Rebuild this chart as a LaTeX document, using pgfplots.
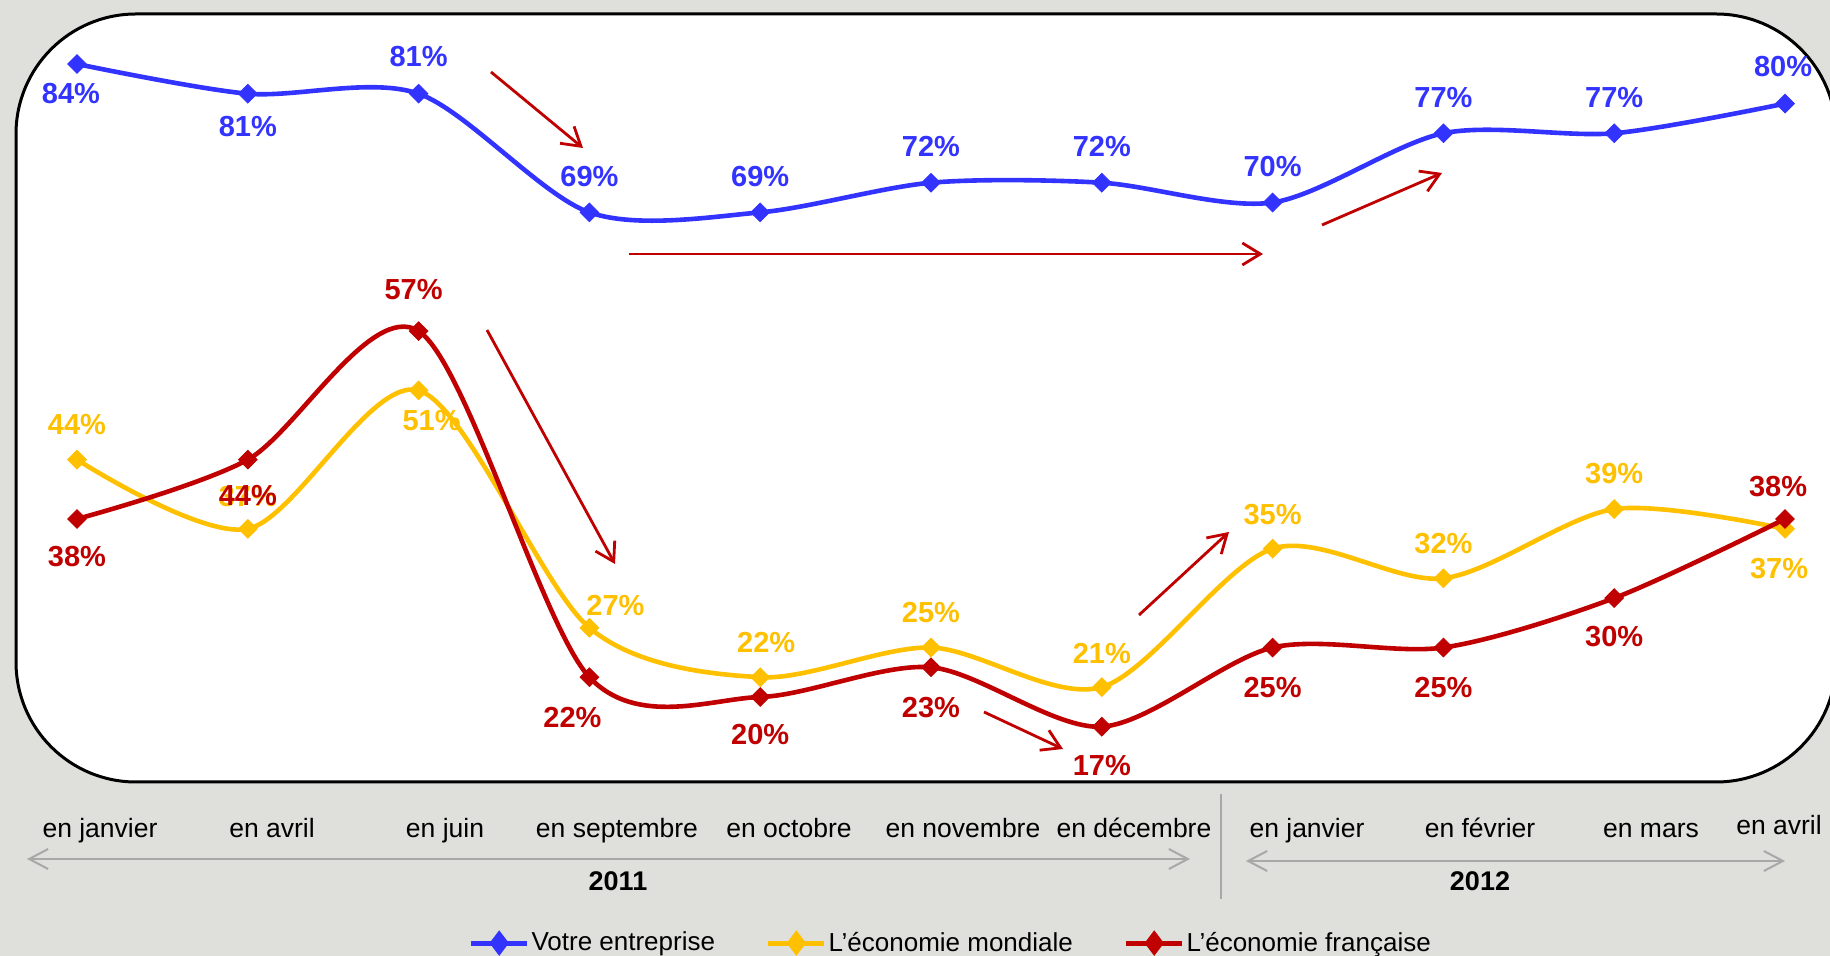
\documentclass[border=0pt]{standalone}
\usepackage{fontspec}
\setmainfont{Liberation Sans}
\usepackage{pgfplots}
\pgfplotsset{compat=1.18}
\usepackage{pgfplotstable}
\usetikzlibrary{arrows.meta}
\definecolor{cblue}{RGB}{51,51,255}
\definecolor{cyellow}{RGB}{255,192,0}
\definecolor{cred}{RGB}{192,0,0}
\definecolor{bggray}{RGB}{223,224,219}
\definecolor{agray}{RGB}{168,168,168}

% x = survey (0..10), y = percent, dx/dy = label offset in bp
\pgfplotstableread{
x y dx dy
0 84 -3 -14.5
1 81 0 -16.5
2 81 0 18.5
3 69 0 18
4 69 0 18
5 72 0 18
6 72 0 18
7 70 0 18
8 77 0 18
9 77 0 18
10 80 -1 18.5
}\entreprise

\pgfplotstableread{
x y dx dy
0 44 0 17.5
1 37 0 16
2 51 6.5 -15
3 27 13 11
4 22 3 17.5
5 25 0 17.5
6 21 0 17
7 35 0 17
8 32 0 17.5
9 39 0 18
10 37 -3 -20
}\mondiale

\pgfplotstableread{
x y dx dy
0 38 0 -19
1 44 0 -18
2 57 -2.5 21
3 22 -8.5 -20
4 20 0 -19
5 23 0 -20
6 17 0 -19.5
7 25 0 -20
8 25 0 -20
9 30 0 -19
10 38 -3.5 16
}\francaise

\begin{document}
\begin{tikzpicture}
\useasboundingbox (0,0) rectangle (915bp,478bp);
\fill[bggray] (0,0) rectangle (915bp,478bp);
\draw[line width=1.5bp, fill=white, rounded corners=60bp] (8bp,87bp) rectangle (918bp,471bp);

\begin{axis}[
  at={(38.5bp,80.05bp)}, anchor=south west,
  scale only axis, width=854bp, height=395.6bp,
  xmin=0, xmax=10, ymin=10, ymax=90,
  hide axis, clip=false,
  every axis plot/.append style={line width=2.3bp, smooth,
     mark=square*, mark size=3.3bp, mark options={rotate=45, solid, line width=0.4bp}},
  legend columns=3,
  legend image code/.code={%
     \draw[#1, mark=none, line width=2.5bp] (0bp,0bp) -- (28bp,0bp);
     \fill[#1] (14bp,4.5bp) -- (17.4bp,0bp) -- (14bp,-4.5bp) -- (10.6bp,0bp) -- cycle;},
  legend style={at={(axis description cs:0.5115,-0.186)}, anchor=center,
     draw=none, fill=none, inner sep=0pt,
     font=\fontsize{13bp}{15bp}\selectfont,
     nodes={inner sep=0.9bp},
     /tikz/every even column/.append style={column sep=24.5bp}},
  lbl/.style={
     point meta=y,
     nodes near coords={\pgfmathprintnumber[fixed,precision=0,assume math mode=true]{\pgfplotspointmeta}\%},
     visualization depends on={\thisrow{dx}\as\ldx},
     visualization depends on={\thisrow{dy}\as\ldy},
     every node near coord/.append style={anchor=center, inner sep=0pt, text=#1,
        xshift=\ldx bp, yshift=\ldy bp, font=\fontsize{14.5bp}{17bp}\selectfont\bfseries}},
]
\addplot[color=cblue, lbl=cblue] table[x=x, y=y] {\entreprise};
\addlegendentry{Votre entreprise}
\addplot[color=cyellow, lbl=cyellow] table[x=x, y=y] {\mondiale};
\addlegendentry{L’économie mondiale}
\addplot[color=cred, lbl=cred] table[x=x, y=y] {\francaise};
\addlegendentry{L’économie française}
\end{axis}

% red trend arrows
\begin{scope}[cred, line width=1.4bp, -{Straight Barb[length=9bp,width=11bp]}]
\draw (245.5bp,442bp) -- (291.5bp,404bp);
\draw (314.5bp,351bp) -- (631.5bp,351bp);
\draw (661bp,365.5bp) -- (721bp,391.5bp);
\draw (243.5bp,313bp) -- (307.5bp,196bp);
\draw (569.5bp,170.5bp) -- (614.5bp,212bp);
\draw (492bp,122bp) -- (531.5bp,103.5bp);
\end{scope}

% category labels
\begin{scope}[every node/.style={anchor=base, inner sep=0pt, font=\fontsize{13.25bp}{15bp}\selectfont}]
\node at (50bp,59bp) {en janvier};
\node at (136bp,59bp) {en avril};
\node at (222.5bp,59bp) {en juin};
\node at (308.5bp,59bp) {en septembre};
\node at (394.5bp,59bp) {en octobre};
\node at (481.5bp,59bp) {en novembre};
\node at (567bp,59bp) {en décembre};
\node at (653.5bp,59bp) {en janvier};
\node at (740bp,59bp) {en février};
\node at (825.5bp,59bp) {en mars};
\node at (889.5bp,60.5bp) {en avril};
\end{scope}

% year arrows
\draw[agray, line width=1bp, {Straight Barb[length=9.5bp,width=10bp]}-{Straight Barb[length=9.5bp,width=10bp]}] (13.5bp,48.5bp) -- (595bp,48.5bp);
\draw[agray, line width=1bp, {Straight Barb[length=9.5bp,width=10bp]}-{Straight Barb[length=9.5bp,width=10bp]}] (623bp,47.5bp) -- (892.5bp,47.5bp);
\draw[agray, line width=0.8bp] (610.5bp,81bp) -- (610.5bp,28.5bp);
\node[font=\fontsize{13.5bp}{15bp}\selectfont\bfseries, inner sep=0pt] at (309bp,37.5bp) {2011};
\node[font=\fontsize{13.5bp}{15bp}\selectfont\bfseries, inner sep=0pt] at (740bp,37.5bp) {2012};
\end{tikzpicture}
\end{document}
